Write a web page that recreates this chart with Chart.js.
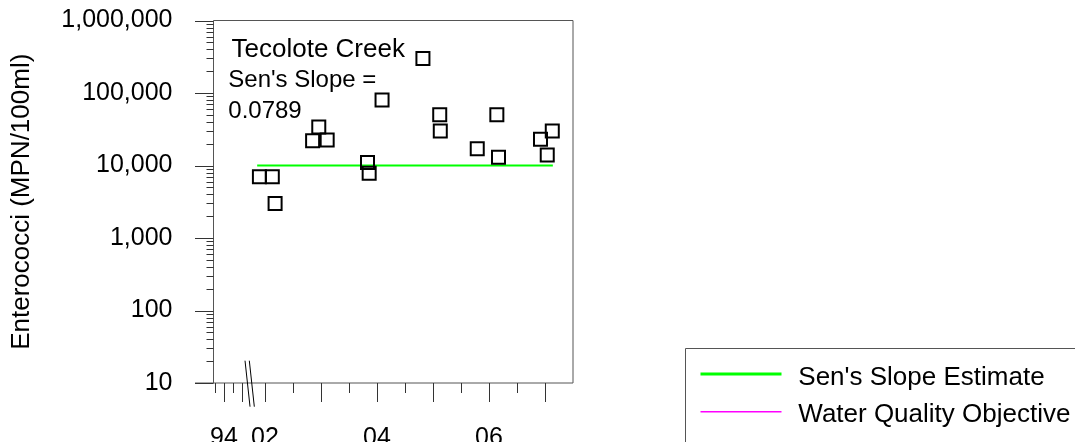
<!DOCTYPE html>
<html>
<head>
<meta charset="utf-8">
<script src="https://cdn.jsdelivr.net/npm/chart.js@4.4.0/dist/chart.umd.min.js"></script>
<style>
  html, body { margin: 0; padding: 0; background: #ffffff; }
  #wrap { position: relative; width: 1080px; height: 442px; }
</style>
</head>
<body>
<div id="wrap"><canvas id="c"></canvas></div>
<script>
// ---------- data ----------
const sampleDates = [2001.90, 2002.13, 2002.18, 2002.85, 2002.96, 2003.11, 2003.83, 2003.86, 2004.09,
                     2004.82, 2005.12, 2005.13, 2005.79, 2006.14, 2006.17, 2006.92, 2007.13, 2007.04];
const enterococci = [7000, 7000, 3000, 22000, 34000, 22500, 11000, 7800, 80000,
                     300000, 50000, 30000, 17000, 50000, 13000, 23000, 30000, 14000];
const senDates = [2001.86, 2007.14];
const senValues = [10000, 10000];
const yTickValues = [10, 100, 1000, 10000, 100000, 1000000];
const xTickYears = [1994, 2002, 2004, 2006];
const xTickLabels = ['94', '02', '04', '06'];
const xMajorYears = [1994, 1995, 2002, 2003, 2004, 2005, 2006, 2007];
const xMinorYears = [1993.5, 1994.5, 2002.5, 2003.5, 2004.5, 2005.5, 2006.5];
const seriesLabels = ['Enterococci', "Sen's Slope Estimate", 'Water Quality Objective'];
const annotationLines = ['Tecolote Creek', "Sen's Slope =", '0.0789'];

// broken time axis: 1993-1995 compressed, 2002 onward full scale
function xu(year) {
  return year >= 2000 ? year - 2002 : (year - 1994) * (17.7 / 56) - 41 / 56;
}

const FONT = "'Liberation Sans', Arial, sans-serif";
const AXIS = '#555555';
const GREEN = '#00ff00';
const MAGENTA = '#ff00ff';

const framePlugin = {
  id: 'frame',
  beforeDatasetsDraw(chart) {
    const ctx = chart.ctx, a = chart.chartArea;
    const xs = chart.scales.x, ys = chart.scales.y;
    ctx.save();
    ctx.strokeStyle = AXIS;
    ctx.lineWidth = 1;
    ctx.beginPath();
    ctx.moveTo(a.left, a.bottom); ctx.lineTo(a.left, a.top);
    ctx.lineTo(a.right, a.top); ctx.lineTo(a.right, a.bottom);
    ctx.moveTo(a.left - 18.5, a.bottom); ctx.lineTo(a.right, a.bottom);
    ctx.stroke();

    ctx.strokeStyle = '#333333';
    ctx.beginPath();
    for (let d = 0; d < yTickValues.length; d++) {
      const dec = yTickValues[d];
      const py = Math.round(ys.getPixelForValue(dec)) + 0.5;
      ctx.moveTo(a.left - 18.5, py); ctx.lineTo(a.left, py);
      if (d < yTickValues.length - 1) {
        for (let k = 2; k <= 9; k++) {
          const p = Math.round(ys.getPixelForValue(dec * k)) + 0.5;
          ctx.moveTo(a.left - 7, p); ctx.lineTo(a.left, p);
        }
      }
    }
    xMajorYears.forEach(yr => {
      const px = Math.round(xs.getPixelForValue(xu(yr))) + 0.5;
      ctx.moveTo(px, a.bottom); ctx.lineTo(px, a.bottom + 19);
    });
    xMinorYears.forEach(yr => {
      const px = Math.round(xs.getPixelForValue(xu(yr))) + 0.5;
      ctx.moveTo(px, a.bottom); ctx.lineTo(px, a.bottom + 10);
    });
    ctx.stroke();

    // axis break marks
    const bx = xs.getPixelForValue(-0.275);
    ctx.strokeStyle = '#000000';
    ctx.beginPath();
    ctx.moveTo(bx - 4.6, a.bottom - 22.3); ctx.lineTo(bx + 0.4, a.bottom + 23.7);
    ctx.moveTo(bx - 0.3, a.bottom - 22.3); ctx.lineTo(bx + 4.7, a.bottom + 23.7);
    ctx.stroke();

    // annotation text
    ctx.fillStyle = '#000000';
    ctx.textBaseline = 'alphabetic';
    ctx.textAlign = 'left';
    ctx.font = '26px ' + FONT;
    ctx.fillText(annotationLines[0], a.left + 18, a.top + 36.2);
    ctx.font = '24px ' + FONT;
    ctx.fillText(annotationLines[1], a.left + 14.8, a.top + 66.5);
    ctx.fillText(annotationLines[2], a.left + 14.8, a.top + 97.8);
    ctx.restore();
  }
};

const legendPlugin = {
  id: 'boxLegend',
  afterDraw(chart) {
    const ctx = chart.ctx;
    const bx = 685.5, by = 348.5;
    ctx.save();
    ctx.strokeStyle = AXIS;
    ctx.lineWidth = 1;
    ctx.beginPath();
    ctx.moveTo(bx, chart.height + 2); ctx.lineTo(bx, by); ctx.lineTo(1075, by);
    ctx.stroke();
    const rows = chart.data.datasets.filter(d => d.inLegend);
    rows.forEach((ds, i) => {
      const cy = i === 0 ? 374 : 411.7;
      ctx.strokeStyle = ds.legendColor;
      ctx.lineWidth = ds.legendWidth;
      ctx.beginPath();
      ctx.moveTo(bx + 15, cy); ctx.lineTo(bx + 96, cy);
      ctx.stroke();
      ctx.fillStyle = '#000000';
      ctx.font = '26px ' + FONT;
      ctx.textBaseline = 'alphabetic';
      ctx.textAlign = 'left';
      ctx.fillText(ds.label, 798.3, cy + 10.5);
    });
    ctx.restore();
  }
};

new Chart(document.getElementById('c'), {
  type: 'scatter',
  data: {
    datasets: [
      {
        label: seriesLabels[0],
        data: sampleDates.map((d, i) => ({ x: xu(d), y: enterococci[i] })),
        pointStyle: 'rect',
        pointRadius: 9.2,
        pointHoverRadius: 9.2,
        borderColor: '#000000',
        backgroundColor: 'rgba(0,0,0,0)',
        borderWidth: 2,
        showLine: false
      },
      {
        type: 'line',
        label: seriesLabels[1],
        data: senDates.map((d, i) => ({ x: xu(d), y: senValues[i] })),
        borderColor: GREEN,
        borderWidth: 2,
        pointRadius: 0,
        fill: false,
        inLegend: true,
        legendColor: GREEN,
        legendWidth: 3
      },
      {
        type: 'line',
        label: seriesLabels[2],
        data: [],
        borderColor: MAGENTA,
        borderWidth: 1,
        pointRadius: 0,
        fill: false,
        inLegend: true,
        legendColor: MAGENTA,
        legendWidth: 1.6
      }
    ]
  },
  options: {
    responsive: true,
    maintainAspectRatio: false,
    animation: false,
    layout: { padding: { left: 0, top: 20.5, right: 507, bottom: 0 } },
    plugins: { legend: { display: false }, tooltip: { enabled: false } },
    scales: {
      x: {
        type: 'linear',
        min: -0.92,
        max: 5.5,
        grid: { display: false, drawTicks: false },
        border: { display: false },
        afterBuildTicks(scale) { scale.ticks = xTickYears.map(y => ({ value: xu(y) })); },
        afterFit(scale) { scale.height = 59; scale.paddingLeft = 0; scale.paddingRight = 0; },
        ticks: {
          autoSkip: false,
          maxRotation: 0,
          padding: 40,
          color: '#000000',
          font: { family: FONT, size: 25 },
          callback: (v, i) => xTickLabels[i]
        }
      },
      y: {
        type: 'logarithmic',
        min: 10,
        max: 1000000,
        grid: { display: false, drawTicks: false },
        border: { display: false },
        afterBuildTicks(scale) { scale.ticks = yTickValues.map(v => ({ value: v })); },
        afterFit(scale) { scale.width = 213.5; scale.paddingTop = 0; scale.paddingBottom = 0; },
        ticks: {
          autoSkip: false,
          padding: 41,
          color: '#000000',
          font: { family: FONT, size: 25 },
          callback: v => Number(v).toLocaleString('en-US')
        },
        title: {
          display: true,
          text: 'Enterococci (MPN/100ml)',
          color: '#000000',
          font: { family: FONT, size: 26 },
          padding: { top: 6, bottom: 0 }
        }
      }
    }
  },
  plugins: [framePlugin, legendPlugin]
});
</script>
</body>
</html>
